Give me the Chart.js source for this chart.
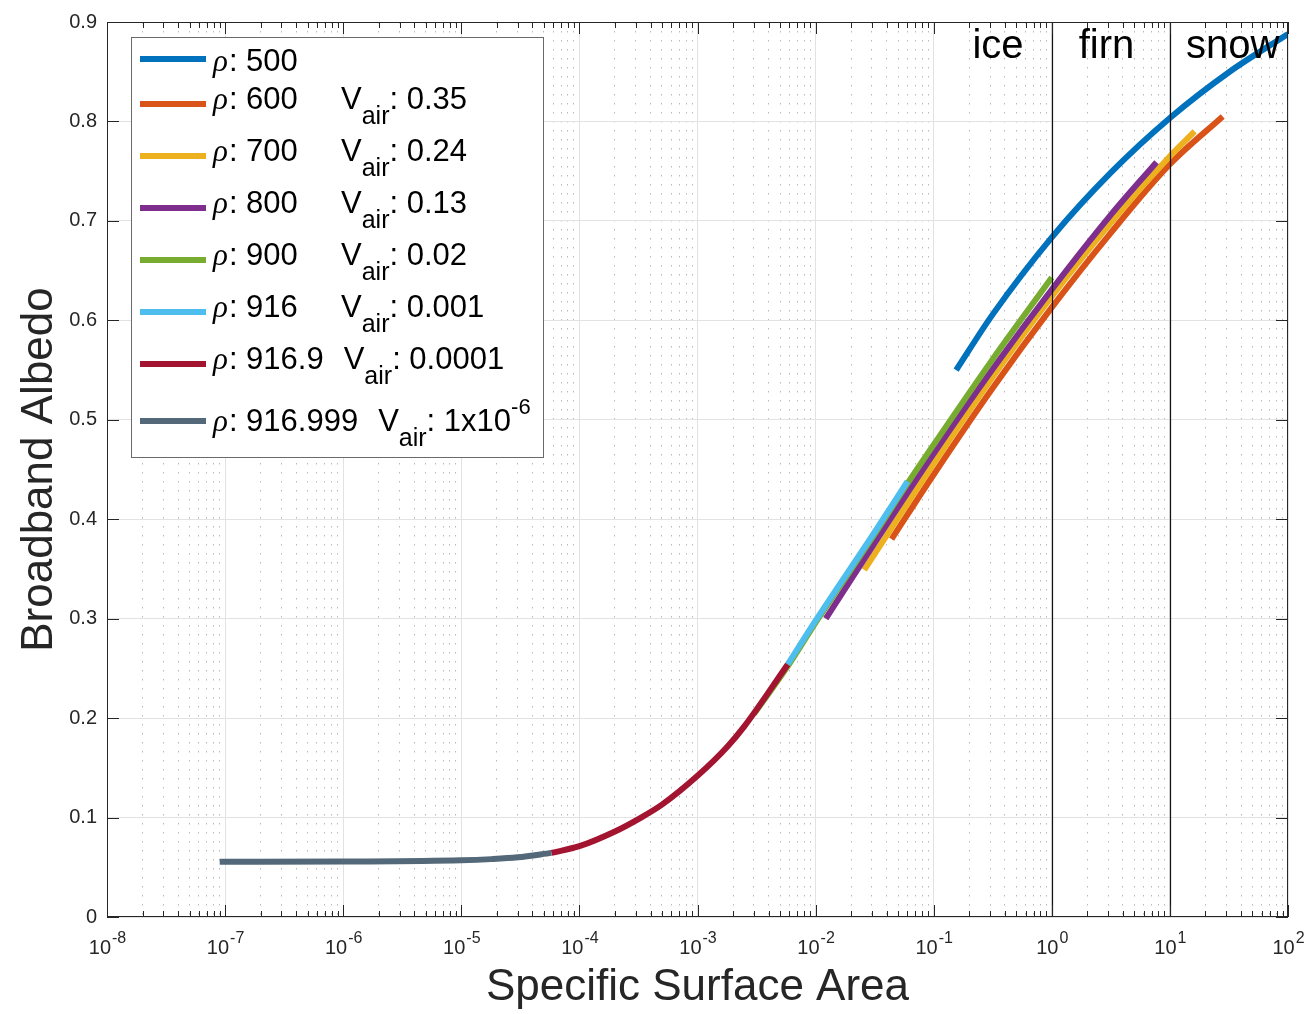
<!DOCTYPE html>
<html>
<head>
<meta charset="utf-8">
<script src="https://cdn.jsdelivr.net/npm/chart.js@4.4.1/dist/chart.umd.min.js"></script>
<style>
  html, body { margin: 0; padding: 0; background: #fff; }
  canvas { display: block; }
</style>
</head>
<body>
<canvas id="albedo" width="1312" height="1014"></canvas>
<script>
// specific surface area (x) and broadband albedo (y), one pair per density
const ssa500 = [0.155, 0.316, 1, 3.16, 10, 31.6, 100];
const alb500 = [0.550, 0.606, 0.6835, 0.7485, 0.8035, 0.8495, 0.888];

const ssa600 = [0.044, 0.1, 0.316, 1, 3.16, 10, 28];
const alb600 = [0.380, 0.445, 0.532, 0.613, 0.688, 0.757, 0.805];

const ssa700 = [0.0258, 0.1, 0.316, 1, 3.16, 10, 16.2];
const alb700 = [0.349, 0.456, 0.543, 0.624, 0.698, 0.765, 0.790];

const ssa800 = [0.0122, 0.0316, 0.1, 0.316, 1, 3.16, 7.7];
const alb800 = [0.300, 0.376, 0.466, 0.551, 0.631, 0.706, 0.759];

const ssa900 = [0.003, 0.0058, 0.01, 0.0316, 0.06, 0.1, 0.316, 1];
const alb900 = [0.204, 0.252, 0.296, 0.385, 0.436, 0.475, 0.561, 0.643];

const ssa916 = [0.0058, 0.01, 0.0316, 0.06];
const alb916 = [0.254, 0.298, 0.387, 0.438];

const ssa9169 = [5.8e-5, 1e-4, 2e-4, 3.16e-4, 5e-4, 1e-3, 1.78e-3, 2.5e-3, 5.8e-3];
const alb9169 = [0.0645, 0.0712, 0.0860, 0.0985, 0.1130, 0.1420, 0.1710, 0.1920, 0.2540];

const ssa916999 = [9e-8, 1e-6, 1e-5, 1.8e-5, 3e-5, 5.8e-5];
const alb916999 = [0.0555, 0.0558, 0.0570, 0.0582, 0.0600, 0.0645];

const densities = ['500', '600', '700', '800', '900', '916', '916.9', '916.999'];
const airVolumes = [null, '0.35', '0.24', '0.13', '0.02', '0.001', '0.0001', '1x10^-6'];
const seriesX = [ssa500, ssa600, ssa700, ssa800, ssa900, ssa916, ssa9169, ssa916999];
const seriesY = [alb500, alb600, alb700, alb800, alb900, alb916, alb9169, alb916999];
const seriesColors = ['#0072BD', '#D95319', '#EDB120', '#7E2F8E', '#77AC30', '#4DBEEE', '#A2142F', '#536878'];

const zoneEdges = [1, 10];
const zoneNames = ['ice', 'firn', 'snow'];
const zoneLabelAt = [0.35, 2.9, 34];

const yTicks = [0, 0.1, 0.2, 0.3, 0.4, 0.5, 0.6, 0.7, 0.8, 0.9];
const xDecades = [-8, -7, -6, -5, -4, -3, -2, -1, 0, 1, 2];

const SANS = "'Liberation Sans', Arial, Helvetica, sans-serif";
const AXIS_COLOR = '#262626';

// every 1..9 x 10^k position, for the dotted minor grid
const xTickValues = [];
xDecades.forEach((k) => {
    const top = k === xDecades[xDecades.length - 1] ? 1 : 9;
    for (let m = 1; m <= top; m++) {
        xTickValues.push(Number((m * Math.pow(10, k)).toPrecision(12)));
    }
});
const isDecade = (v) => Math.abs(Math.log10(v) - Math.round(Math.log10(v))) < 1e-9;

const datasets = densities.map((rho, i) => ({
    label: rho,
    data: seriesX[i].map((x, j) => ({ x: x, y: seriesY[i][j] })),
    borderColor: seriesColors[i],
    backgroundColor: seriesColors[i],
    order: -i,
}));

function drawLegend(ctx) {
    const box = { x: 131, y: 37, w: 412, h: 420 };
    ctx.save();
    ctx.fillStyle = '#ffffff';
    ctx.fillRect(box.x, box.y, box.w, box.h);
    ctx.strokeStyle = '#6a6a6a';
    ctx.lineWidth = 1;
    ctx.strokeRect(box.x + 0.5, box.y + 0.5, box.w, box.h);

    let top = box.y + 3;
    densities.forEach((rho, i) => {
        const air = airVolumes[i];
        const sup = air && air.includes('^');
        const h = !air ? 38 : sup ? 62 : 52;
        const mid = top + h / 2;
        const base = top + 31 + (sup ? 10 : 0);

        ctx.strokeStyle = seriesColors[i];
        ctx.lineWidth = 6;
        ctx.beginPath();
        ctx.moveTo(140, mid);
        ctx.lineTo(206, mid);
        ctx.stroke();

        ctx.fillStyle = '#000';
        ctx.textAlign = 'left';
        ctx.textBaseline = 'alphabetic';
        let x = 213;
        ctx.font = "italic 31px 'Liberation Serif', 'DejaVu Serif', serif";
        ctx.fillText('ρ', x, base);
        x += ctx.measureText('ρ').width + 1;
        ctx.font = '31px ' + SANS;
        const rhoText = ': ' + rho;
        ctx.fillText(rhoText, x, base);
        x += ctx.measureText(rhoText).width;

        if (air) {
            x = Math.max(341, x + 20);
            ctx.fillText('V', x, base);
            x += ctx.measureText('V').width;
            ctx.font = '25px ' + SANS;
            ctx.fillText('air', x, base + 15);
            x += ctx.measureText('air').width;
            ctx.font = '31px ' + SANS;
            const parts = air.split('^');
            const valText = ': ' + parts[0];
            ctx.fillText(valText, x, base);
            x += ctx.measureText(valText).width;
            if (parts[1]) {
                ctx.font = '22px ' + SANS;
                ctx.fillText(parts[1], x, base - 16.7);
            }
        }
        top += h;
    });
    ctx.restore();
}

const frame = {
    id: 'frame',
    afterDatasetsDraw(chart) {
        const { ctx, chartArea: a, scales } = chart;
        const xs = scales.x;
        const ys = scales.y;
        ctx.save();

        // ice / firn / snow boundaries
        ctx.strokeStyle = '#111';
        ctx.lineWidth = 1.2;
        zoneEdges.forEach((v) => {
            const px = Math.round(xs.getPixelForValue(v)) + 0.5;
            ctx.beginPath();
            ctx.moveTo(px, a.top);
            ctx.lineTo(px, a.bottom);
            ctx.stroke();
        });
        ctx.fillStyle = '#000';
        ctx.font = '40px ' + SANS;
        ctx.textAlign = 'center';
        ctx.textBaseline = 'alphabetic';
        zoneNames.forEach((name, i) => {
            ctx.fillText(name, xs.getPixelForValue(zoneLabelAt[i]), a.top + 36);
        });

        // axes box with inward ticks
        ctx.strokeStyle = AXIS_COLOR;
        ctx.lineWidth = 1;
        ctx.strokeRect(a.left + 0.5, a.top + 0.5, a.right - a.left - 1, a.bottom - a.top - 1);
        ctx.beginPath();
        xs.ticks.forEach((t) => {
            const px = Math.round(xs.getPixelForValue(t.value)) + 0.5;
            const len = isDecade(t.value) ? 12 : 6;
            ctx.moveTo(px, a.bottom);
            ctx.lineTo(px, a.bottom - len);
            ctx.moveTo(px, a.top);
            ctx.lineTo(px, a.top + len);
        });
        yTicks.forEach((v) => {
            const py = Math.round(ys.getPixelForValue(v)) + 0.5;
            ctx.moveTo(a.left, py);
            ctx.lineTo(a.left + 12, py);
            ctx.moveTo(a.right, py);
            ctx.lineTo(a.right - 12, py);
        });
        ctx.stroke();

        // decade labels as 10 with a raised exponent
        ctx.fillStyle = AXIS_COLOR;
        ctx.textAlign = 'left';
        xDecades.forEach((k) => {
            const px = xs.getPixelForValue(Math.pow(10, k));
            const exp = String(k);
            ctx.font = '20px ' + SANS;
            const wb = ctx.measureText('10').width;
            ctx.font = '16px ' + SANS;
            const we = ctx.measureText(exp).width;
            const x0 = px - (wb + we) / 2;
            ctx.font = '20px ' + SANS;
            ctx.fillText('10', x0, a.bottom + 37);
            ctx.font = '16px ' + SANS;
            ctx.fillText(exp, x0 + wb + 1, a.bottom + 26);
        });
        ctx.restore();

        drawLegend(ctx);
    },
};

new Chart(document.getElementById('albedo'), {
    type: 'line',
    data: { datasets: datasets },
    options: {
        responsive: false,
        animation: false,
        devicePixelRatio: 1,
        layout: { padding: { top: 20, right: 24, bottom: 0, left: 0 } },
        elements: {
            point: { radius: 0, hoverRadius: 0 },
            line: { borderWidth: 6, cubicInterpolationMode: 'monotone', borderCapStyle: 'butt', fill: false },
        },
        plugins: {
            legend: { display: false },
            tooltip: { enabled: false },
        },
        scales: {
            x: {
                type: 'logarithmic',
                position: 'bottom',
                min: 1e-8,
                max: 100,
                afterBuildTicks: (scale) => {
                    scale.ticks = xTickValues.map((v) => ({ value: v }));
                },
                afterFit: (scale) => {
                    scale.height = 97;
                },
                ticks: { display: false },
                grid: {
                    drawTicks: false,
                    lineWidth: 1,
                    color: (c) => (c.tick && !isDecade(c.tick.value) ? '#b9b9b9' : '#e2e2e2'),
                },
                border: {
                    display: false,
                    dash: (c) => (c.tick && !isDecade(c.tick.value) ? [1.5, 7.5] : []),
                },
                title: {
                    display: true,
                    text: 'Specific Surface Area',
                    color: AXIS_COLOR,
                    font: { family: SANS, size: 44, lineHeight: 1.2 },
                    padding: { top: 0, bottom: 0 },
                },
            },
            y: {
                type: 'linear',
                min: 0,
                max: 0.9,
                afterBuildTicks: (scale) => {
                    scale.ticks = yTicks.map((v) => ({ value: v }));
                },
                afterFit: (scale) => {
                    scale.width = 107;
                },
                ticks: {
                    autoSkip: false,
                    padding: 10,
                    color: AXIS_COLOR,
                    font: { family: SANS, size: 20 },
                    callback: (v) => (v === 0 ? '0' : Number(v).toFixed(1)),
                },
                grid: { drawTicks: false, color: '#e2e2e2', lineWidth: 1 },
                border: { display: false },
                title: {
                    display: true,
                    text: 'Broadband Albedo',
                    color: AXIS_COLOR,
                    font: { family: SANS, size: 44, lineHeight: 1.2 },
                    padding: { top: 13, bottom: 0 },
                },
            },
        },
    },
    plugins: [frame],
});
</script>
</body>
</html>
